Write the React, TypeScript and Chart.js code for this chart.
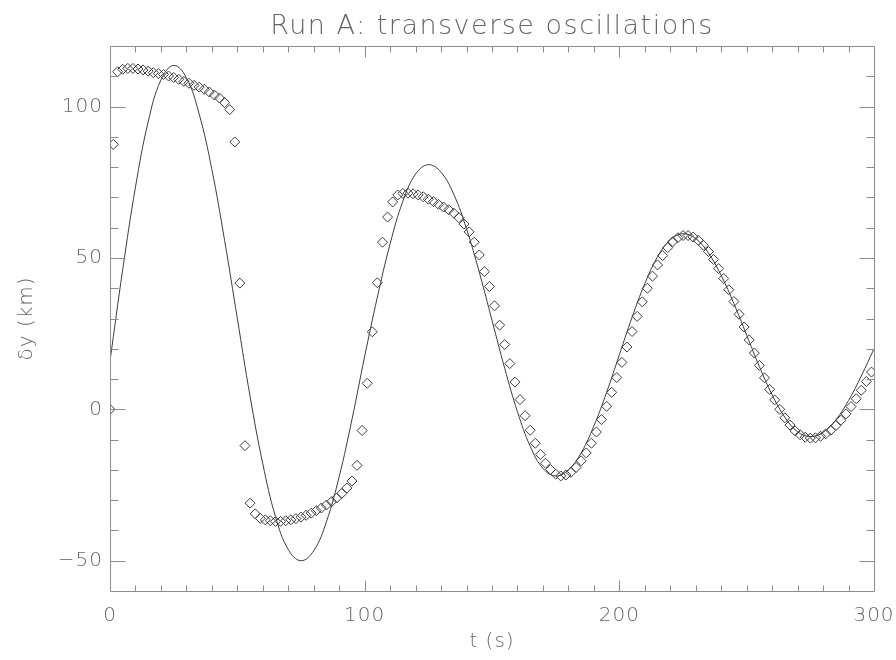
import React, { useEffect, useRef } from "react";
import { Chart, registerables } from "chart.js";

Chart.register(...registerables);

// Sampled displacement of the tracked feature (diamonds)
const TIMES = [
  0, 1.3, 3, 5, 7, 9, 11, 13, 15, 17, 19, 21, 23, 25, 27, 29, 31, 33, 35, 37, 39,
  41, 43, 45, 47, 49, 51, 53, 55, 57, 59, 61, 63, 65, 67, 69, 71, 73, 75, 77, 79,
  81, 83, 85, 87, 89, 91, 93, 95, 97, 99, 101, 103, 105, 107, 109, 111, 113, 115,
  117, 119, 121, 123, 125, 127, 129, 131, 133, 135, 137, 139, 141, 143, 145, 147,
  149, 151, 153, 155, 157, 159, 161, 163, 165, 167, 169, 171, 173, 175, 177, 179,
  181, 183, 185, 187, 189, 191, 193, 195, 197, 199, 201, 203, 205, 207, 209, 211,
  213, 215, 217, 219, 221, 223, 225, 227, 229, 231, 233, 235, 237, 239, 241, 243,
  245, 247, 249, 251, 253, 255, 257, 259, 261, 263, 265, 267, 269, 271, 273, 275,
  277, 279, 281, 283, 285, 287, 289, 291, 293, 295, 297, 299,
];

const DISPLACEMENT = [
  0, 87.5,
  111.5, 112.3, 112.6, 112.6, 112.4, 112.1, 111.7, 111.2, 110.9, 110.6, 110.1,
  109.6, 109.0, 108.3, 107.7, 107.0, 106.4, 105.7, 104.8, 103.8, 102.8, 101.3, 99.0,
  88.3, 41.7, -12, -31,
  -34.5, -36, -36.5, -36.8, -37, -37, -36.8, -36.5, -36.1, -35.6, -35, -34.3,
  -33.5, -32.6, -31.6, -30.5, -29.3, -27.8, -26, -23.7, -18.5, -7,
  8.6, 25.6, 41.8, 55.2, 63.5, 68.5,
  70.8, 71.3, 71.4, 71.2, 70.8, 70.2, 69.4, 68.6, 67.7, 66.8, 65.9, 64.8, 63.3,
  61.2, 58.6, 55.2, 51, 45.5,
  40.6, 34.2, 27.8, 21.4, 15.1, 9, 3.2, -2.1, -6.9, -11.2, -14.9, -17.8, -19.9,
  -21.4, -22,
  -21.7, -20.8, -19.2, -17, -14.4, -11.2, -7.5, -3.4, 1, 5.6, 10.5, 15.5,
  20.6, 25.7, 30.7, 35.5, 40, 44, 47.7, 50.8, 53.4, 55.4, 56.7, 57.4, 57.4,
  56.9, 55.8, 54.2, 52.1, 49.5, 46.5, 43.2, 39.5, 35.6, 31.4, 27.2,
  22.9, 18.6, 14.5, 10.4, 6.6, 3.1, 0, -2.8, -5.2, -7.1, -8.4, -9.2, -9.5,
  -9.4, -8.9, -8.1, -6.9, -5.4, -3.6, -1.5, 0.9, 3.5, 6.3, 9.2, 12.3,
];

// Fitted damped oscillation (solid curve)
const FIT_TIMES = [
  0, 5, 10, 15, 20, 25, 30, 35, 40, 45, 50, 55, 60, 65, 70, 75, 80, 85, 90, 95,
  100, 105, 110, 115, 120, 125, 130, 135, 140, 145, 150, 155, 160, 165, 170, 175,
  180, 185, 190, 195, 200, 205, 210, 215, 220, 225, 230, 235, 240, 245, 250, 255,
  260, 265, 270, 275, 280, 285, 290, 295, 300,
];

const FIT_VALUES = [
  16, 46.2, 73.4, 95, 108.8, 113.6, 109.5, 97.6, 79.2, 55.8,
  30, 4.3, -18, -35.5, -46.3, -50, -46.7, -37.1, -22.2, -3.4,
  17.5, 37.1, 54.7, 68.7, 77.7, 80.8, 78.3, 71, 59.6, 45.3,
  29.4, 13.5, -0.8, -12.2, -19.5, -22, -20, -14.4, -5.5, 5.6,
  18, 30.4, 41.5, 50.4, 56, 58, 56.4, 51.6, 44.2, 34.9,
  24.5, 14.1, 4.8, -2.6, -7.4, -9, -7.6, -3.5, 2.9, 11,
  20,
];

const X_TICKS = [0, 100, 200, 300];
const Y_TICKS = [-50, 0, 50, 100];

const TITLE = "Run A: transverse oscillations";
const X_TITLE = "t (s)";
const Y_TITLE = "\u03b4y (km)";

const FONT = "'DejaVu Sans', sans-serif";
const FONT_WEIGHT = 200;
const TEXT_COLOR = "#666666";
const AXIS_COLOR = "#8c8c8c";
const MARK_COLOR = "#3c3c3c";

// Wider letter spacing for every label drawn on the canvas
const spacingPlugin = {
  id: "spacing",
  beforeDraw(chart: any) {
    chart.ctx.letterSpacing = "1px";
  },
};

// Box frame with inward major/minor ticks on all four sides, plus the title
const framePlugin = {
  id: "frame",
  afterDraw(chart: any) {
    const { ctx, chartArea: a, scales } = chart;
    const xs = scales.x;
    const ys = scales.y;
    const L = Math.round(a.left) + 0.5;
    const R = Math.round(a.right) + 0.5;
    const T = Math.round(a.top) + 0.5;
    const B = Math.round(a.bottom) + 0.5;
    ctx.save();
    ctx.strokeStyle = AXIS_COLOR;
    ctx.lineWidth = 1;
    ctx.beginPath();
    ctx.moveTo(L, T);
    ctx.lineTo(R, T);
    ctx.lineTo(R, B);
    ctx.lineTo(L, B);
    ctx.closePath();
    for (let v = xs.min + 10; v < xs.max; v += 10) {
      const px = Math.round(xs.getPixelForValue(v)) + 0.5;
      const len = v % 100 === 0 ? 11 : 6;
      ctx.moveTo(px, B);
      ctx.lineTo(px, B - len);
      ctx.moveTo(px, T);
      ctx.lineTo(px, T + len);
    }
    for (let v = ys.min + 10; v < ys.max; v += 10) {
      const py = Math.round(ys.getPixelForValue(v)) + 0.5;
      const len = v % 50 === 0 ? 15 : 8;
      ctx.moveTo(L, py);
      ctx.lineTo(L + len, py);
      ctx.moveTo(R, py);
      ctx.lineTo(R - len, py);
    }
    ctx.stroke();

    ctx.fillStyle = TEXT_COLOR;
    ctx.font = `${FONT_WEIGHT} 27px ${FONT}`;
    ctx.letterSpacing = "1.5px";
    ctx.textAlign = "center";
    ctx.textBaseline = "middle";
    ctx.fillText(TITLE, (a.left + a.right) / 2, 27);
    ctx.restore();
  },
};

function tickLabel(v: number) {
  return v < 0 ? "\u2212" + Math.abs(v) : String(v);
}

export default function App() {
  const canvasRef = useRef<HTMLCanvasElement | null>(null);

  useEffect(() => {
    const canvas = canvasRef.current;
    if (!canvas) return;
    const tickFont = { family: FONT, size: 20, weight: FONT_WEIGHT };
    const chart = new Chart(canvas, {
      type: "scatter",
      data: {
        datasets: [
          {
            label: "fit",
            data: FIT_TIMES.map((t, i) => ({ x: t, y: FIT_VALUES[i] })),
            showLine: true,
            borderColor: MARK_COLOR,
            borderWidth: 1,
            pointRadius: 0,
            tension: 0.4,
            fill: false,
          },
          {
            label: "measured",
            data: TIMES.map((t, i) => ({ x: t, y: DISPLACEMENT[i] })),
            showLine: false,
            pointStyle: "rectRot",
            pointRadius: 5,
            borderColor: MARK_COLOR,
            borderWidth: 1,
            backgroundColor: "rgba(0,0,0,0)",
          },
        ],
      },
      options: {
        responsive: false,
        animation: false,
        devicePixelRatio: 1,
        layout: { padding: { left: 0, right: 22, top: 46, bottom: 0 } },
        plugins: {
          legend: { display: false },
          tooltip: { enabled: false },
          title: { display: false },
        },
        scales: {
          x: {
            type: "linear",
            min: 0,
            max: 300,
            grid: { display: false, drawTicks: false },
            border: { display: false },
            ticks: {
              color: TEXT_COLOR,
              font: tickFont,
              padding: 13,
              maxRotation: 0,
              autoSkip: false,
              callback: (v: any) => tickLabel(Number(v)),
            },
            afterBuildTicks: (s: any) => {
              s.ticks = X_TICKS.map((value) => ({ value }));
            },
            afterFit: (s: any) => {
              s.height = 69;
              s.paddingLeft = 0;
              s.paddingRight = 0;
            },
            title: {
              display: true,
              text: X_TITLE,
              color: TEXT_COLOR,
              font: tickFont,
              padding: { top: 6, bottom: 6 },
            },
          },
          y: {
            type: "linear",
            min: -60,
            max: 120,
            grid: { display: false, drawTicks: false },
            border: { display: false },
            ticks: {
              color: TEXT_COLOR,
              font: tickFont,
              padding: 7,
              autoSkip: false,
              callback: (v: any) => tickLabel(Number(v)),
            },
            afterBuildTicks: (s: any) => {
              s.ticks = Y_TICKS.map((value) => ({ value }));
            },
            afterFit: (s: any) => {
              s.width = 110;
              s.paddingTop = 0;
              s.paddingBottom = 0;
            },
            title: {
              display: true,
              text: Y_TITLE,
              color: TEXT_COLOR,
              font: tickFont,
              padding: { top: 15, bottom: 15 },
            },
          },
        },
      },
      plugins: [spacingPlugin, framePlugin],
    });
    return () => chart.destroy();
  }, []);

  return (
    <div style={{ position: "fixed", left: 0, top: 0, width: 896, height: 660, background: "#fff" }}>
      <canvas ref={canvasRef} width={896} height={660} style={{ display: "block" }} />
    </div>
  );
}
